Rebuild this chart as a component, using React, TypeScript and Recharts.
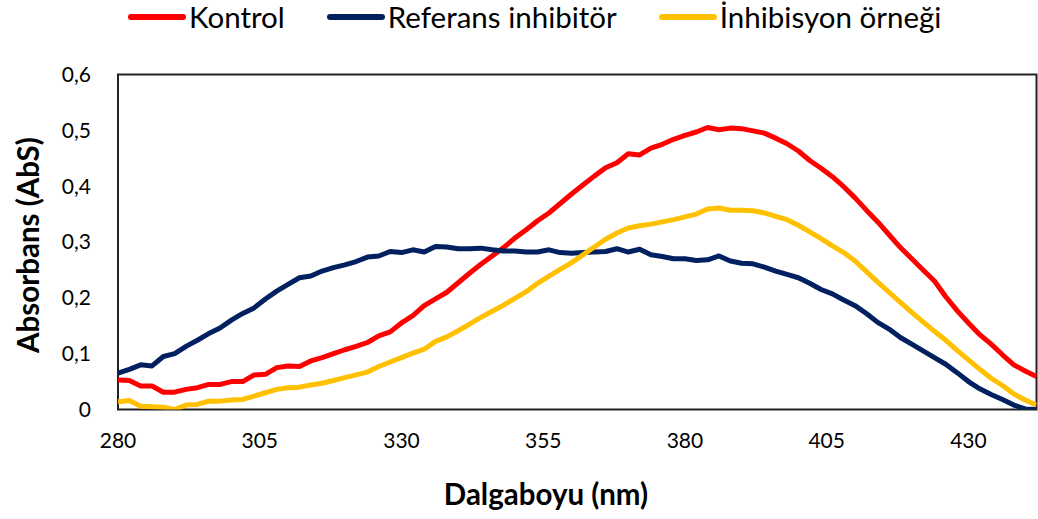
import { LineChart, Line, XAxis, YAxis, ReferenceArea } from "recharts";

// wavelength (nm), every 2 nm
const wavelength = [
  280, 282, 284, 286, 288, 290, 292, 294, 296, 298, 300, 302, 304, 306, 308, 310, 312, 314, 316, 318,
  320, 322, 324, 326, 328, 330, 332, 334, 336, 338, 340, 342, 344, 346, 348, 350, 352, 354, 356, 358,
  360, 362, 364, 366, 368, 370, 372, 374, 376, 378, 380, 382, 384, 386, 388, 390, 392, 394, 396, 398,
  400, 402, 404, 406, 408, 410, 412, 414, 416, 418, 420, 422, 424, 426, 428, 430, 432, 434, 436, 438,
  440, 442,
];

const kontrol = [
  0.053, 0.052, 0.042, 0.042, 0.031, 0.031, 0.036, 0.039, 0.045, 0.045, 0.05, 0.05, 0.062, 0.063, 0.075, 0.078, 0.077, 0.087, 0.093, 0.1,
  0.107, 0.113, 0.12, 0.132, 0.139, 0.155, 0.168, 0.186, 0.198, 0.21, 0.227, 0.244, 0.26, 0.275, 0.29, 0.307, 0.322, 0.338, 0.352, 0.369,
  0.386, 0.402, 0.418, 0.433, 0.442, 0.458, 0.456, 0.468, 0.475, 0.484, 0.491, 0.497, 0.505, 0.501, 0.504, 0.503, 0.499, 0.495, 0.486, 0.476,
  0.463, 0.446, 0.432, 0.417, 0.399, 0.379, 0.357, 0.336, 0.313, 0.29, 0.27, 0.25, 0.23, 0.202, 0.177, 0.155, 0.134, 0.117, 0.098, 0.08,
  0.069, 0.059,
];

const referans = [
  0.065, 0.072, 0.08, 0.078, 0.095, 0.1, 0.113, 0.124, 0.136, 0.146, 0.16, 0.172, 0.182, 0.198, 0.212, 0.224, 0.236, 0.239, 0.248, 0.254,
  0.259, 0.265, 0.273, 0.275, 0.283, 0.281, 0.286, 0.282, 0.292, 0.291, 0.288, 0.288, 0.289, 0.286, 0.284, 0.284, 0.282, 0.282, 0.286, 0.281,
  0.28, 0.281, 0.282, 0.283, 0.288, 0.282, 0.287, 0.277, 0.274, 0.27, 0.27, 0.267, 0.268, 0.275, 0.266, 0.262, 0.261, 0.255, 0.248, 0.242,
  0.236, 0.226, 0.215, 0.207, 0.196, 0.186, 0.172, 0.156, 0.144, 0.129, 0.117, 0.105, 0.093, 0.081, 0.066, 0.05, 0.037, 0.027, 0.018, 0.008,
  0.001, 0.0,
];

const inhibisyon = [
  0.014, 0.016, 0.006, 0.005, 0.004, 0.0, 0.008, 0.009, 0.015, 0.015, 0.017, 0.018, 0.024, 0.03, 0.036, 0.039, 0.04, 0.044, 0.047, 0.052,
  0.057, 0.062, 0.067, 0.077, 0.085, 0.093, 0.101, 0.108, 0.122, 0.13, 0.141, 0.153, 0.165, 0.176, 0.187, 0.199, 0.211, 0.226, 0.239, 0.251,
  0.263, 0.277, 0.291, 0.305, 0.316, 0.325, 0.329, 0.332, 0.336, 0.34, 0.345, 0.35, 0.359, 0.361, 0.357, 0.357, 0.356, 0.352, 0.346, 0.34,
  0.33, 0.318, 0.306, 0.293, 0.281, 0.266, 0.247, 0.228, 0.21, 0.192, 0.174, 0.157, 0.14, 0.124, 0.106, 0.089, 0.072, 0.056, 0.043, 0.028,
  0.017, 0.008,
];

const xTicks = [280, 305, 330, 355, 380, 405, 430];
const yTicks = [0, 0.1, 0.2, 0.3, 0.4, 0.5, 0.6];

const series = [
  { key: "kontrol", name: "Kontrol", color: "#FF0000" },
  { key: "referans", name: "Referans inhibitör", color: "#002060" },
  { key: "inhibisyon", name: "İnhibisyon örneği", color: "#FFC000" },
];

const data = wavelength.map((nm, i) => ({
  nm,
  kontrol: kontrol[i],
  referans: referans[i],
  inhibisyon: inhibisyon[i],
}));

const FONT = "Lato, 'Open Sans', sans-serif";

function LegendRow() {
  return (
    <div style={{ position: "absolute", left: 128, top: 0, height: 34, display: "flex", alignItems: "center", gap: 42, fontFamily: FONT, fontSize: 29.5, color: "#000" }}>
      {series.map((s) => (
        <div key={s.key} style={{ display: "flex", alignItems: "center", gap: 3 }}>
          <svg width={58} height={8}>
            <line x1={3} y1={4} x2={55} y2={4} stroke={s.color} strokeWidth={6} strokeLinecap="round" />
          </svg>
          <span style={{ lineHeight: "34px" }}>{s.name}</span>
        </div>
      ))}
    </div>
  );
}

const fmtY = (v: number) => (v === 0 ? "0" : v.toFixed(1).replace(".", ","));

export default function App() {
  return (
    <div style={{ position: "absolute", left: 0, top: 0, width: 1038, height: 519, background: "#fff" }}>
      <LegendRow />
      <LineChart width={1038} height={519} data={data} margin={{ top: 74.5, right: 1.5, bottom: 49.5, left: 0 }}>
        <XAxis
          dataKey="nm"
          type="number"
          domain={[280, 442]}
          ticks={xTicks}
          allowDataOverflow
          axisLine={false}
          tickLine={false}
          tickSize={0}
          tickMargin={24}
          height={60}
          tick={{ fill: "#000", fontSize: 21, fontFamily: FONT }}
          label={{
            content: () => (
              <text x={546} y={493} textAnchor="middle" dominantBaseline="central" fontFamily={FONT} fontSize={29.5} fontWeight={700} fill="#000">
                Dalgaboyu (nm)
              </text>
            ),
          }}
        />
        <YAxis
          type="number"
          domain={[0, 0.6]}
          ticks={yTicks}
          allowDataOverflow
          width={118}
          axisLine={false}
          tickLine={false}
          tickSize={0}
          tickMargin={27}
          tickFormatter={fmtY}
          tick={{ fill: "#000", fontSize: 21, fontFamily: FONT }}
          label={{
            content: () => (
              <text x={27} y={245} transform="rotate(-90, 27, 245)" textAnchor="middle" dominantBaseline="central" fontFamily={FONT} fontSize={29.5} fontWeight={700} fill="#000">
                Absorbans (AbS)
              </text>
            ),
          }}
        />
        <ReferenceArea x1={280} x2={442} y1={0} y2={0.6} fill="none" stroke="#222" strokeWidth={2} ifOverflow="visible" />
        {series.map((s) => (
          <Line
            key={s.key}
            dataKey={s.key}
            name={s.name}
            type="linear"
            stroke={s.color}
            strokeWidth={5}
            dot={false}
            activeDot={false}
            strokeLinejoin="round"
            isAnimationActive={false}
          />
        ))}
      </LineChart>
    </div>
  );
}
